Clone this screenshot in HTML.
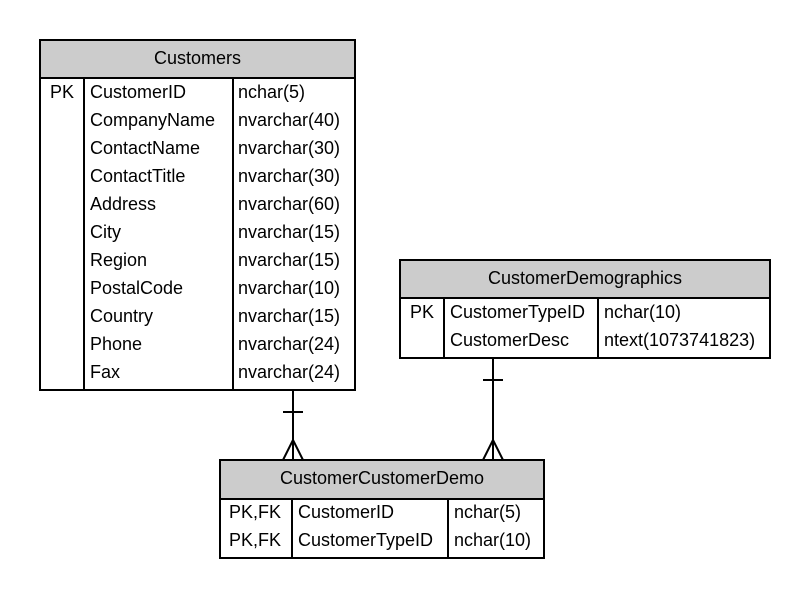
<!DOCTYPE html>
<html><head><style>body{margin:0;background:#fff}svg{display:block}text{font-family:"Liberation Sans",sans-serif;font-size:18px;fill:#000}</style></head>
<body>
<svg width="810" height="599" viewBox="0 0 810 599">
<g stroke="#000" stroke-width="2" fill="none">
<rect x="40" y="40" width="315" height="38" fill="#cccccc"/>
<rect x="40" y="78" width="315" height="312"/>
<line x1="84" y1="78" x2="84" y2="390"/><line x1="233" y1="78" x2="233" y2="390"/>
<rect x="400" y="260" width="370" height="38" fill="#cccccc"/>
<rect x="400" y="298" width="370" height="60"/>
<line x1="444" y1="298" x2="444" y2="358"/><line x1="598" y1="298" x2="598" y2="358"/>
<rect x="220" y="460" width="324" height="39" fill="#cccccc"/>
<rect x="220" y="499" width="324" height="59"/>
<line x1="292" y1="499" x2="292" y2="558"/><line x1="448" y1="499" x2="448" y2="558"/>
<line x1="293" y1="390" x2="293" y2="460"/><line x1="283" y1="412" x2="303" y2="412"/>
<polyline points="283,460 293,440 303,460"/>
<line x1="493" y1="358" x2="493" y2="460"/><line x1="483" y1="380" x2="503" y2="380"/>
<polyline points="483,460 493,440 503,460"/>
</g>
<text x="197.5" y="64" text-anchor="middle">Customers</text>
<g>
<text x="50" y="98">PK</text>
<text x="90" y="98">CustomerID</text><text x="238" y="98">nchar(5)</text>
<text x="90" y="126">CompanyName</text><text x="238" y="126">nvarchar(40)</text>
<text x="90" y="154">ContactName</text><text x="238" y="154">nvarchar(30)</text>
<text x="90" y="182">ContactTitle</text><text x="238" y="182">nvarchar(30)</text>
<text x="90" y="210">Address</text><text x="238" y="210">nvarchar(60)</text>
<text x="90" y="238">City</text><text x="238" y="238">nvarchar(15)</text>
<text x="90" y="266">Region</text><text x="238" y="266">nvarchar(15)</text>
<text x="90" y="294">PostalCode</text><text x="238" y="294">nvarchar(10)</text>
<text x="90" y="322">Country</text><text x="238" y="322">nvarchar(15)</text>
<text x="90" y="350">Phone</text><text x="238" y="350">nvarchar(24)</text>
<text x="90" y="378">Fax</text><text x="238" y="378">nvarchar(24)</text>
</g>
<text x="585" y="284" text-anchor="middle">CustomerDemographics</text>
<text x="410" y="318">PK</text>
<text x="450" y="318">CustomerTypeID</text><text x="604" y="318">nchar(10)</text>
<text x="450" y="346">CustomerDesc</text><text x="604" y="346">ntext(1073741823)</text>
<text x="382" y="484" text-anchor="middle">CustomerCustomerDemo</text>
<text x="229" y="518">PK,FK</text><text x="298" y="518">CustomerID</text><text x="454" y="518">nchar(5)</text>
<text x="229" y="546">PK,FK</text><text x="298" y="546">CustomerTypeID</text><text x="454" y="546">nchar(10)</text>
</svg>
</body></html>
